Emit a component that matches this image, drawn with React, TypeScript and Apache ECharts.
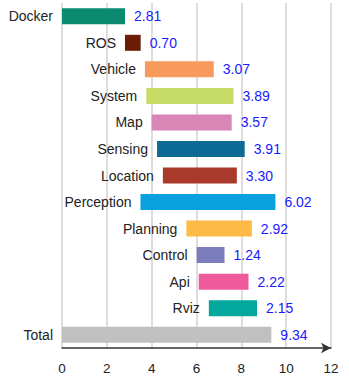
import React, { useEffect, useRef } from "react";
import * as echarts from "echarts";

const categories = ["Docker", "ROS", "Vehicle", "System", "Map", "Sensing", "Location", "Perception", "Planning", "Control", "Api", "Rviz", "Total"];
const starts = [0, 2.81, 3.7, 3.76, 4.0, 4.24, 4.5, 3.5, 5.55, 6.01, 6.1, 6.55, 0];
const durations = [2.81, 0.7, 3.07, 3.89, 3.57, 3.91, 3.3, 6.02, 2.92, 1.24, 2.22, 2.15, 9.34];
const colors = ["#0b8a70", "#6b1c05", "#f89a5c", "#c7dc66", "#d886b6", "#0c6a94", "#a9392a", "#0aa1e1", "#fdba45", "#7c7dbd", "#ef5a9d", "#02a89b", "#c0c0c0"];
const xTicks = [0, 2, 4, 6, 8, 10, 12];

export default function App() {
  const ref = useRef<HTMLDivElement>(null);
  useEffect(() => {
    const chart = echarts.init(ref.current!, null, { renderer: "svg" });
    const font = "'Liberation Sans', Arial, Helvetica, sans-serif";
    chart.setOption({
      animation: false,
      grid: { left: 62, right: 18, top: 3, bottom: 36, containLabel: false },
      xAxis: {
        type: "value",
        min: xTicks[0],
        max: xTicks[xTicks.length - 1],
        interval: 2,
        axisLine: { show: true, symbol: ["none", "arrow"], symbolSize: [8, 10], lineStyle: { color: "#333", width: 1.5 } },
        axisTick: { show: false },
        axisLabel: { color: "#222", fontSize: 13.5, fontFamily: font, margin: 13 },
        splitLine: { show: true, lineStyle: { color: "#d2d2d2", width: 1.5 } },
      },
      yAxis: {
        type: "category",
        data: categories,
        inverse: true,
        axisLine: { show: false },
        axisTick: { show: false },
        axisLabel: { show: false },
        splitLine: { show: false },
      },
      series: [
        {
          type: "bar",
          stack: "a",
          barWidth: 16,
          barGap: "-100%",
          data: starts,
          itemStyle: { color: "transparent" },
          silent: true,
        },
        {
          type: "bar",
          stack: "a",
          barWidth: 16,
          barGap: "-100%",
          data: durations.map((v, i) => ({ value: v, itemStyle: { color: colors[i] } })),
          label: {
            show: true,
            position: "right",
            distance: 9,
            color: "#1a1aff",
            fontSize: 14,
            fontFamily: font,
            formatter: (p: any) => durations[p.dataIndex].toFixed(2),
          },
        },
        {
          type: "bar",
          stack: "b",
          barWidth: 16,
          barGap: "-100%",
          data: starts,
          itemStyle: { color: "transparent" },
          silent: true,
        },
        {
          type: "bar",
          stack: "b",
          barWidth: 16,
          barGap: "-100%",
          data: durations,
          itemStyle: { color: "transparent" },
          silent: true,
          label: {
            show: true,
            position: "left",
            distance: 9,
            color: "#222",
            fontSize: 14,
            fontFamily: font,
            formatter: (p: any) => categories[p.dataIndex],
          },
        },
      ],
    });
    return () => chart.dispose();
  }, []);
  return <div ref={ref} style={{ width: 349, height: 384, position: "absolute", left: 0, top: 0 }} />;
}
